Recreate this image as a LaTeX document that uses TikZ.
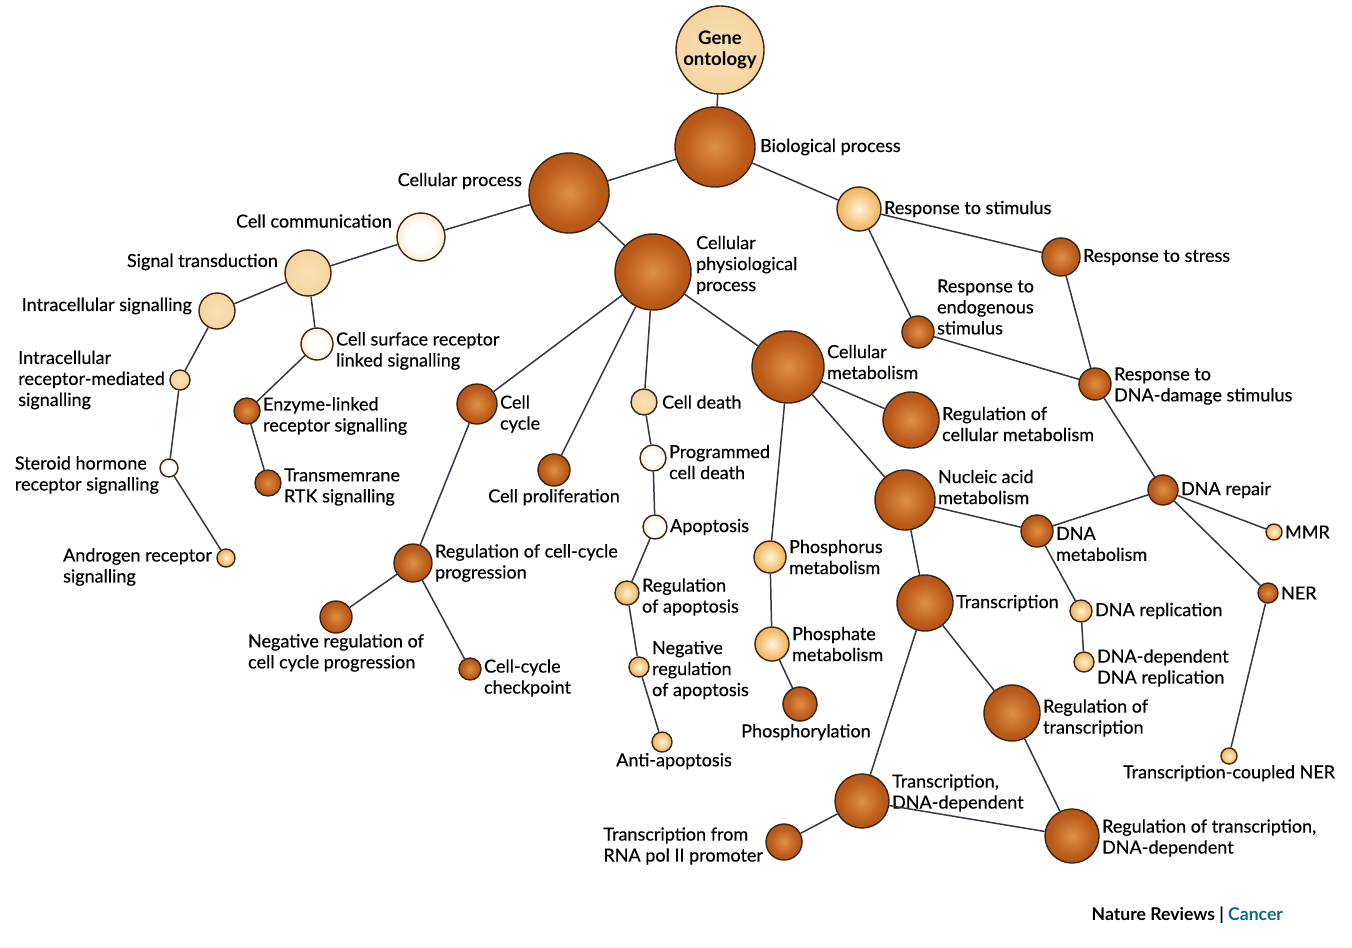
\documentclass[tikz,border=0pt]{standalone}
\usepackage{fontspec}
\setmainfont{Lato}
\newfontfamily\lblfam{Lato}[FakeBold=0.35]
\usetikzlibrary{positioning}

\definecolor{orbline}{HTML}{3A2412}
\definecolor{edgecol}{HTML}{323A45}
\definecolor{darkA}{HTML}{DE9046}
\definecolor{darkB}{HTML}{BA5A1A}
\definecolor{darkC}{HTML}{973F0B}
\definecolor{lightA}{HTML}{FFF4DC}
\definecolor{lightB}{HTML}{F3BE6E}
\definecolor{lightC}{HTML}{DD8A26}
\definecolor{creamA}{HTML}{FFFFFF}
\definecolor{creamB}{HTML}{F7E4C2}
\definecolor{creamC}{HTML}{EFD1A0}
\definecolor{tanA}{HTML}{F8DFB3}
\definecolor{tanC}{HTML}{F1CB90}
\definecolor{nrblue}{HTML}{0B6C8C}

\pgfdeclareradialshading{darkorb}{\pgfpoint{0bp}{0bp}}{color(0bp)=(darkA);color(20bp)=(darkB);color(50bp)=(darkC)}
\pgfdeclareradialshading{lightorb}{\pgfpoint{0bp}{0bp}}{color(0bp)=(lightA);color(20bp)=(lightB);color(50bp)=(lightC)}
\pgfdeclareradialshading{creamorb}{\pgfpoint{0bp}{0bp}}{color(0bp)=(creamA);color(14bp)=(creamA);color(30bp)=(creamB);color(50bp)=(creamC)}
\pgfdeclareradialshading{tanorb}{\pgfpoint{0bp}{0bp}}{color(0bp)=(tanA);color(50bp)=(tanC)}

\newcommand\lblfont{\lblfam\fontsize{9}{10.5}\selectfont}
\newcommand\gofont{\fontsize{9.3}{10.5}\selectfont\bfseries}

\tikzset{
  orb/.style={circle, draw=orbline, line width=0.7pt, inner sep=0pt, shade},
  dk/.style={orb, shading=darkorb, minimum size=#1},
  lt/.style={orb, shading=lightorb, minimum size=#1},
  cr/.style={orb, shading=creamorb, minimum size=#1},
  tn/.style={orb, shading=tanorb, minimum size=#1},
  txt/.style={font=\lblfont, align=left, inner sep=1pt},
  edge/.style={draw=edgecol, line width=0.75pt}
}

\begin{document}
\begin{tikzpicture}[x=0.5pt,y=-0.5pt]
\fill[white] (0,0) rectangle (1352,947);
\useasboundingbox (0,0) rectangle (1352,947);

% root and the left branch
\node[tn=44pt, font=\gofont, align=center] (go) at (720,50) {Gene\\ontology};
\node[dk=40pt] (bp) at (715,147) {};
\node[txt, right=1pt of bp] (bp-t) {Biological process};
\node[dk=40pt] (cp) at (569,193) {};
\node[txt, left=2pt of cp, yshift=6pt] (cp-t) {Cellular process};
\node[cr=24pt] (ccom) at (421,237) {};
\node[txt, left=1pt of ccom, yshift=8pt] (ccom-t) {Cell communication};
\node[tn=23pt] (sig) at (308,273) {};
\node[txt, left=2pt of sig, yshift=5.5pt] (sig-t) {Signal transduction};
\node[tn=18pt] (intra) at (217,311) {};
\node[txt, left=2pt of intra, yshift=2.5pt] (intra-t) {Intracellular signalling};
\node[cr=16pt] (surf) at (317,344) {};
\node[txt, right=0pt of surf, yshift=-3.5pt] (surf-t) {Cell surface receptor\\linked signalling};
\node[tn=10pt] (irm) at (180,380) {};
\node[txt, left=1pt of irm] (irm-t) {Intracellular\\receptor-mediated\\signalling};
\node[dk=13pt] (enz) at (247,411) {};
\node[txt, right=0pt of enz, yshift=-2.5pt] (enz-t) {Enzyme-linked\\receptor signalling};
\node[cr=9pt] (ster) at (169,468) {};
\node[txt, left=-1pt of ster, yshift=-3.5pt] (ster-t) {Steroid hormone\\receptor signalling};
\node[dk=13pt] (rtk) at (268,483) {};
\node[txt, right=0pt of rtk, yshift=-2pt] (rtk-t) {Transmemrane\\RTK signalling};
\node[lt=9pt] (andr) at (226,558) {};
\node[txt, left=1pt of andr, yshift=-4.5pt] (andr-t) {Androgen receptor\\signalling};

% cellular physiological process
\node[dk=38pt] (cpp) at (653,272) {};
\node[txt, right=1pt of cpp, yshift=3.5pt] (cpp-t) {Cellular\\physiological\\process};
\node[dk=36pt] (cmet) at (788,367) {};
\node[txt, right=0pt of cmet, yshift=2.5pt] (cmet-t) {Cellular\\metabolism};
\node[dk=20pt] (ccyc) at (477,404) {};
\node[txt, right=0pt of ccyc, yshift=-5pt] (ccyc-t) {Cell\\cycle};
\node[dk=16pt] (cprol) at (554,470) {};
\node[txt, below=0pt of cprol] (cprol-t) {Cell proliferation};
\node[tn=13pt] (cdth) at (644,402) {};
\node[txt, right=1pt of cdth] (cdth-t) {Cell death};
\node[cr=13pt] (pcd) at (653,458) {};
\node[txt, right=0pt of pcd, yshift=-2pt] (pcd-t) {Programmed\\cell death};
\node[cr=12pt] (apop) at (655,527) {};
\node[txt, right=0pt of apop] (apop-t) {Apoptosis};
\node[lt=12pt] (rapop) at (627,593) {};
\node[txt, right=0pt of rapop, yshift=-2pt] (rapop-t) {Regulation\\of apoptosis};
\node[lt=10pt] (nrapop) at (639,667) {};
\node[txt, right=0pt of nrapop, yshift=-1.5pt] (nrapop-t) {Negative\\regulation\\of apoptosis};
\node[lt=10pt] (aapop) at (662,742) {};
\node[txt, below=-1pt of aapop, xshift=6pt] (aapop-t) {Anti-apoptosis};
\node[dk=19pt] (rccp) at (413,563) {};
\node[txt, right=0pt of rccp] (rccp-t) {Regulation of cell-cycle\\progression};
\node[dk=16pt] (nrccp) at (336,617) {};
\node[txt, below=-1pt of nrccp] (nrccp-t) {Negative regulation of\\cell cycle progression};
\node[dk=11pt] (ckpt) at (470,669) {};
\node[txt, right=0pt of ckpt, yshift=-4.5pt] (ckpt-t) {Cell-cycle\\checkpoint};

% metabolism and transcription
\node[dk=28pt] (rcm) at (911,420) {};
\node[txt, right=0pt of rcm, yshift=-2pt] (rcm-t) {Regulation of\\cellular metabolism};
\node[dk=30pt] (nuc) at (905,500) {};
\node[txt, right=0pt of nuc, yshift=6.5pt] (nuc-t) {Nucleic acid\\metabolism};
\node[lt=16pt] (phs) at (770,557) {};
\node[txt, right=0pt of phs] (phs-t) {Phosphorus\\metabolism};
\node[lt=17pt] (pht) at (772,644) {};
\node[txt, right=0pt of pht] (pht-t) {Phosphate\\metabolism};
\node[dk=17pt] (phy) at (800,704) {};
\node[txt, below=0pt of phy, xshift=3pt] (phy-t) {Phosphorylation};
\node[dk=28pt] (tr) at (925,603) {};
\node[txt, right=0pt of tr] (tr-t) {Transcription};
\node[dk=28pt] (rtr) at (1012,713) {};
\node[txt, right=0pt of rtr, yshift=-2.5pt] (rtr-t) {Regulation of\\transcription};
\node[dk=27pt] (trd) at (862,801) {};
\node[txt, right=0pt of trd, yshift=4pt] (trd-t) {Transcription,\\DNA-dependent};
\node[dk=18pt] (pol) at (784,842) {};
\node[txt, left=0pt of pol, yshift=-2pt] (pol-t) {Transcription from\\RNA pol II promoter};
\node[dk=27pt] (rtrd) at (1072,836) {};
\node[txt, right=0pt of rtrd, yshift=-1pt] (rtrd-t) {Regulation of transcription,\\DNA-dependent};

% response to stimulus
\node[lt=22pt] (rs) at (859,209) {};
\node[txt, right=0pt of rs] (rs-t) {Response to stimulus};
\node[dk=19pt] (rst) at (1061,257) {};
\node[txt, right=0pt of rst] (rst-t) {Response to stress};
\node[dk=16pt] (ren) at (918,332) {};
\node[txt, right=0pt of ren, yshift=12.5pt] (ren-t) {Response to\\endogenous\\stimulus};
\node[dk=16pt] (rdna) at (1095,384) {};
\node[txt, right=0pt of rdna, yshift=-1pt] (rdna-t) {Response to\\DNA-damage stimulus};
\node[dk=15pt] (rep) at (1163,490) {};
\node[txt, right=0pt of rep] (rep-t) {DNA repair};
\node[dk=16pt] (dmet) at (1037,531) {};
\node[txt, right=0pt of dmet, yshift=-6.5pt] (dmet-t) {DNA\\metabolism};
\node[lt=8pt] (mmr) at (1274,532) {};
\node[txt, right=0pt of mmr] (mmr-t) {MMR};
\node[dk=10pt] (ner) at (1268,593) {};
\node[txt, right=0pt of ner] (ner-t) {NER};
\node[lt=11pt] (drep) at (1081,611) {};
\node[txt, right=0pt of drep] (drep-t) {DNA replication};
\node[lt=10pt] (ddrep) at (1084,662) {};
\node[txt, right=0pt of ddrep, yshift=-3pt] (ddrep-t) {DNA-dependent\\DNA replication};
\node[lt=8pt] (tcner) at (1229,756) {};
\node[txt, below=-1pt of tcner] (tcner-t) {Transcription-coupled NER};

\node[font=\fontsize{8.8}{10}\selectfont\bfseries, anchor=east] (credit) at (1290,915) {Nature Reviews | \textcolor{nrblue}{Cancer}};

% connectors
\draw[edge] (go) -- (bp);
\draw[edge] (bp) -- (cp);
\draw[edge] (bp) -- (rs);
\draw[edge] (cp) -- (ccom);
\draw[edge] (cp) -- (cpp);
\draw[edge] (ccom) -- (sig);
\draw[edge] (sig) -- (intra);
\draw[edge] (sig) -- (surf);
\draw[edge] (intra) -- (irm);
\draw[edge] (irm) -- (ster);
\draw[edge] (ster) -- (andr);
\draw[edge] (surf) -- (enz);
\draw[edge] (enz) -- (rtk);
\draw[edge] (cpp) -- (ccyc);
\draw[edge] (cpp) -- (cprol);
\draw[edge] (cpp) -- (cdth);
\draw[edge] (cpp) -- (cmet);
\draw[edge] (ccyc) -- (rccp);
\draw[edge] (rccp) -- (nrccp);
\draw[edge] (rccp) -- (ckpt);
\draw[edge] (cdth) -- (pcd);
\draw[edge] (pcd) -- (apop);
\draw[edge] (apop) -- (rapop);
\draw[edge] (rapop) -- (nrapop);
\draw[edge] (nrapop) -- (aapop);
\draw[edge] (cmet) -- (rcm);
\draw[edge] (cmet) -- (nuc);
\draw[edge] (cmet) -- (phs);
\draw[edge] (phs) -- (pht);
\draw[edge] (pht) -- (phy);
\draw[edge] (nuc) -- (tr);
\draw[edge] (nuc) -- (dmet);
\draw[edge] (tr) -- (rtr);
\draw[edge] (tr) -- (trd);
\draw[edge] (rtr) -- (rtrd);
\draw[edge] (trd) -- (rtrd);
\draw[edge] (trd) -- (pol);
\draw[edge] (rs) -- (rst);
\draw[edge] (rs) -- (ren);
\draw[edge] (ren) -- (rdna);
\draw[edge] (rst) -- (rdna);
\draw[edge] (rdna) -- (rep);
\draw[edge] (rep) -- (dmet);
\draw[edge] (rep) -- (mmr);
\draw[edge] (rep) -- (ner);
\draw[edge] (ner) -- (tcner);
\draw[edge] (dmet) -- (drep);
\draw[edge] (drep) -- (ddrep);
\end{tikzpicture}
\end{document}
